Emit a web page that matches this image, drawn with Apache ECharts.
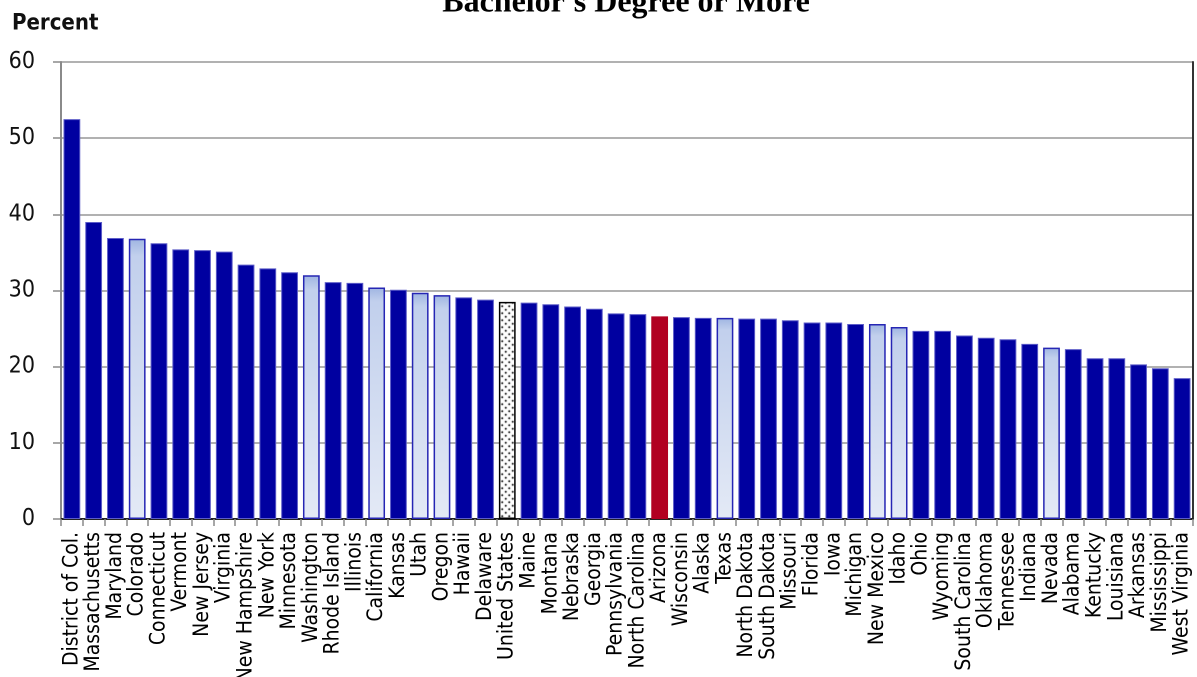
<!DOCTYPE html>
<html>
<head>
<meta charset="utf-8">
<title>Bachelor's Degree or More</title>
<script src="https://cdn.jsdelivr.net/npm/echarts@6/dist/echarts.min.js"></script>
<style>
  html, body { margin: 0; padding: 0; background: #fff; overflow: hidden; }
  #chart { width: 1197px; height: 677px; }
</style>
</head>
<body>
<div id="chart"></div>
<script>
// Share of adults holding a bachelor's degree or more, by state
const categories = [
  'District of Col.', 'Massachusetts', 'Maryland', 'Colorado', 'Connecticut', 'Vermont',
  'New Jersey', 'Virginia', 'New Hampshire', 'New York', 'Minnesota', 'Washington',
  'Rhode Island', 'Illinois', 'California', 'Kansas', 'Utah', 'Oregon', 'Hawaii',
  'Delaware', 'United States', 'Maine', 'Montana', 'Nebraska', 'Georgia', 'Pennsylvania',
  'North Carolina', 'Arizona', 'Wisconsin', 'Alaska', 'Texas', 'North Dakota',
  'South Dakota', 'Missouri', 'Florida', 'Iowa', 'Michigan', 'New Mexico', 'Idaho',
  'Ohio', 'Wyoming', 'South Carolina', 'Oklahoma', 'Tennessee', 'Indiana', 'Nevada',
  'Alabama', 'Kentucky', 'Louisiana', 'Arkansas', 'Mississippi', 'West Virginia'
];

const values = [
  52.5, 39.0, 36.9, 36.8, 36.2, 35.4,
  35.3, 35.1, 33.4, 32.9, 32.4, 32.0,
  31.1, 31.0, 30.4, 30.1, 29.7, 29.4, 29.1,
  28.8, 28.5, 28.4, 28.2, 27.9, 27.6, 27.0,
  26.9, 26.6, 26.5, 26.4, 26.4, 26.3,
  26.3, 26.1, 25.8, 25.8, 25.6, 25.6, 25.2,
  24.7, 24.7, 24.1, 23.8, 23.6, 23.0, 22.5,
  22.3, 21.1, 21.1, 20.3, 19.8, 18.5
];

// comparison groups
const westernStates = ['Colorado', 'Washington', 'California', 'Utah', 'Oregon', 'Texas', 'New Mexico', 'Idaho', 'Nevada'];
const nationTotal = 'United States';
const focusState = 'Arizona';

const yTicks = [0, 10, 20, 30, 40, 50, 60];

const labelFont = "'DejaVu Sans Condensed', 'DejaVu Sans', sans-serif";

// dotted fill for the national bar
function dotPattern() {
  const c = document.createElement('canvas');
  c.width = 7; c.height = 7;
  const g = c.getContext('2d');
  g.fillStyle = '#ffffff';
  g.fillRect(0, 0, 7, 7);
  g.fillStyle = '#000000';
  [[1.75, 1.75], [5.25, 5.25]].forEach(function (p) {
    g.beginPath();
    g.arc(p[0], p[1], 1.0, 0, Math.PI * 2);
    g.fill();
  });
  return { image: c, repeat: 'repeat' };
}

const lightFill = {
  type: 'linear', x: 0, y: 0, x2: 0, y2: 1,
  colorStops: [
    { offset: 0, color: '#9fb5e2' },
    { offset: 0.06, color: '#c2d0ed' },
    { offset: 1, color: '#e4eaf6' }
  ]
};

function styleFor(name) {
  if (name === nationTotal) {
    return { color: dotPattern(), borderColor: '#000000', borderWidth: 1.5 };
  }
  if (name === focusState) {
    return { color: '#b10021', borderColor: '#b10021', borderWidth: 0 };
  }
  if (westernStates.indexOf(name) >= 0) {
    return { color: lightFill, borderColor: '#2626b4', borderWidth: 1.5 };
  }
  return { color: '#0000a0', borderColor: '#5c5cc8', borderWidth: 1 };
}

const barData = categories.map(function (name, i) {
  return { value: values[i], itemStyle: styleFor(name) };
});

const chart = echarts.init(document.getElementById('chart'), null, { renderer: 'canvas', devicePixelRatio: 2 });

chart.setOption({
  animation: false,
  backgroundColor: '#ffffff',
  title: [
    {
      text: "Bachelor's Degree or More",
      left: 626,
      top: -13,
      padding: 0,
      textAlign: 'center',
      textStyle: { fontFamily: 'Liberation Serif', fontWeight: 'bold', fontSize: 32, color: '#000' }
    },
    {
      text: 'Percent',
      left: 12,
      top: 13,
      padding: 0,
      textStyle: { fontFamily: labelFont, fontWeight: 'bold', fontSize: 22, color: '#111' }
    }
  ],
  grid: { left: 61, right: 4, top: 62, bottom: 158, containLabel: false, outerBoundsMode: 'none' },
  xAxis: [
    {
      type: 'category',
      data: categories,
      position: 'bottom',
      axisLine: { show: true, lineStyle: { color: '#8a8a8a', width: 2 } },
      axisTick: { show: true, alignWithLabel: false, length: 7, lineStyle: { color: '#8a8a8a', width: 1.5 } },
      axisLabel: {
        interval: 0,
        rotate: 90,
        margin: 13,
        fontFamily: labelFont,
        fontSize: 21,
        color: '#000'
      },
      splitLine: { show: false }
    },
    {
      type: 'category',
      data: categories,
      position: 'top',
      axisLine: { show: true, lineStyle: { color: '#222', width: 2 } },
      axisTick: { show: false },
      axisLabel: { show: false },
      splitLine: { show: false }
    }
  ],
  yAxis: [
    {
      type: 'value',
      min: yTicks[0],
      max: yTicks[yTicks.length - 1],
      interval: 10,
      position: 'left',
      axisLine: { show: true, lineStyle: { color: '#8a8a8a', width: 2 } },
      axisTick: { show: true, length: 8, lineStyle: { color: '#8a8a8a', width: 1.5 } },
      axisLabel: { margin: 26, fontFamily: labelFont, fontSize: 23, color: '#111' },
      splitLine: { show: true, lineStyle: { color: '#979797', width: 1.5 } }
    },
    {
      type: 'value',
      min: yTicks[0],
      max: yTicks[yTicks.length - 1],
      interval: 10,
      position: 'right',
      axisLine: { show: true, lineStyle: { color: '#333', width: 2 } },
      axisTick: { show: false },
      axisLabel: { show: false },
      splitLine: { show: false }
    }
  ],
  series: [
    {
      type: 'bar',
      xAxisIndex: 0,
      yAxisIndex: 0,
      data: barData,
      barWidth: '77%'
    }
  ]
});
</script>
</body>
</html>
